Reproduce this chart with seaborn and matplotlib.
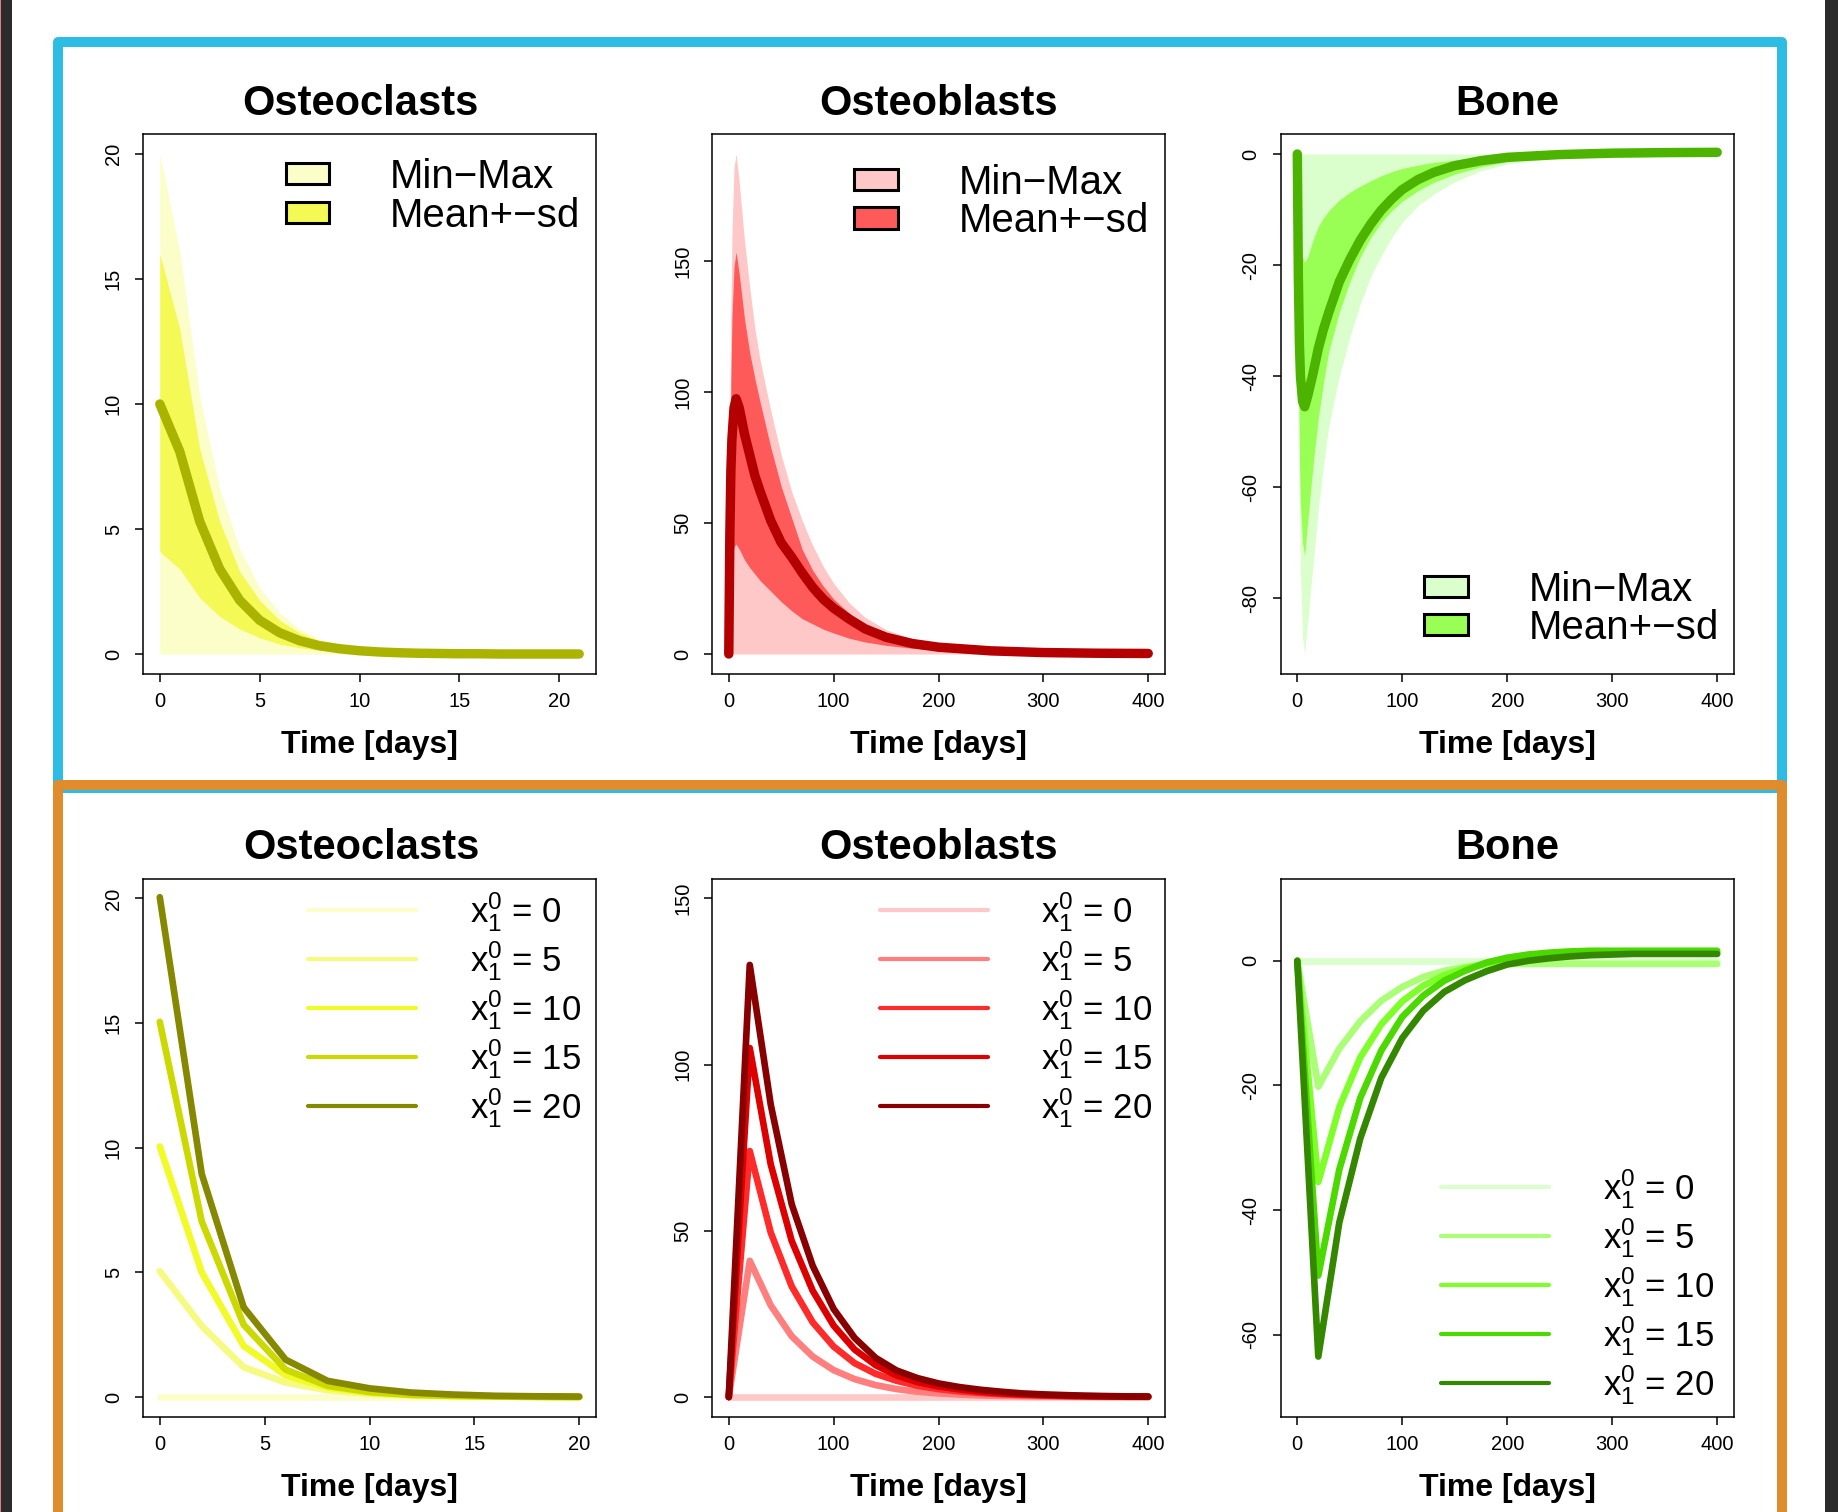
import matplotlib
matplotlib.use("Agg")
import matplotlib.pyplot as plt
import seaborn as sns
from matplotlib.lines import Line2D
from matplotlib.patches import Patch, Rectangle

# ---------------- data ----------------
# top row: statistics over the sampled initial osteoclast numbers
ocl_t = [0, 1, 2, 3, 4, 5, 6, 7, 8, 9, 10, 11, 12, 13, 14, 15, 16, 17, 18, 19, 20, 21]
ocl_mean = [10.0, 8.1, 5.3, 3.4, 2.15, 1.35, 0.85, 0.53, 0.33, 0.21, 0.13, 0.08, 0.05, 0.03, 0.02, 0.01, 0.01, 0.0, 0.0, 0.0, 0.0, 0.0]
ocl_sd_hi = [16.0, 13.0, 8.2, 5.3, 3.3, 2.15, 1.35, 0.85, 0.52, 0.32, 0.2, 0.12, 0.08, 0.05, 0.03, 0.02, 0.01, 0.01, 0.0, 0.0, 0.0, 0.0]
ocl_sd_lo = [4.1, 3.4, 2.25, 1.5, 1.0, 0.65, 0.4, 0.25, 0.15, 0.09, 0.06, 0.04, 0.02, 0.01, 0.01, 0.0, 0.0, 0.0, 0.0, 0.0, 0.0, 0.0]
ocl_max = [20.0, 16.1, 10.3, 6.6, 4.2, 2.65, 1.65, 1.0, 0.6, 0.37, 0.23, 0.14, 0.09, 0.05, 0.03, 0.02, 0.01, 0.01, 0.0, 0.0, 0.0, 0.0]
ocl_min = [0.0, 0.0, 0.0, 0.0, 0.0, 0.0, 0.0, 0.0, 0.0, 0.0, 0.0, 0.0, 0.0, 0.0, 0.0, 0.0, 0.0, 0.0, 0.0, 0.0, 0.0, 0.0]

long_t = [0, 1, 2, 3, 5, 7, 10, 15, 20, 25, 30, 40, 50, 60, 70, 80, 90, 100, 115, 130, 150, 175, 200, 250, 300, 350, 400]
ob_mean = [0, 45, 70, 82, 94, 97.5, 94, 84, 76, 68, 62, 51, 42.5, 37, 31, 25.5, 21, 17.5, 13.3, 9.6, 6.4, 4.0, 2.6, 1.2, 0.55, 0.3, 0.2]
ob_sd_hi = [0, 60, 105, 128, 148, 153.5, 145, 128, 115, 105, 96, 79, 64, 52, 40, 32, 26, 21, 15.5, 11, 7.2, 4.5, 2.9, 1.2, 0.5, 0.2, 0.1]
ob_sd_lo = [0, 18, 30, 36, 41, 42, 40, 36, 33, 30.5, 28, 24, 20, 16.5, 13.5, 11.5, 9.5, 8, 6, 4.6, 3.3, 2.2, 1.4, 0.6, 0.3, 0.15, 0.1]
ob_max = [0, 75, 130, 160, 186, 191, 180, 158, 140, 124, 112, 93, 76, 62, 51, 41.5, 33.5, 27, 19.5, 14, 9.3, 5.8, 3.7, 1.5, 0.6, 0.25, 0.1]
ob_min = [0, 0, 0, 0, 0, 0, 0, 0, 0, 0, 0, 0, 0, 0, 0, 0, 0, 0, 0, 0, 0, 0, 0, 0, 0, 0, 0]

bone_mean = [0, -22, -34, -40, -44.5, -45.5, -43.5, -39.5, -35, -31.5, -28.5, -23, -19, -15.5, -12.6, -10.1, -8.1, -6.4, -4.6, -3.3, -2.1, -1.2, -0.6, -0.1, 0.15, 0.25, 0.3]
bone_sd_hi = [0, -8, -13, -16, -18.5, -19.5, -18.5, -15.5, -13, -11.5, -10.2, -8.3, -6.9, -5.8, -4.8, -3.9, -3.2, -2.6, -2.0, -1.5, -1.1, -0.7, -0.45, -0.1, 0.1, 0.2, 0.25]
bone_sd_lo = [0, -35, -55, -63, -70, -72.4, -66, -56, -47.5, -41, -35.5, -28.5, -23, -18.5, -15, -12.3, -10.2, -8.5, -6.6, -5.1, -3.6, -2.3, -1.4, -0.4, 0.05, 0.15, 0.25]
bone_min = [0, -40, -62, -75, -87, -90, -84, -74, -64, -56, -49, -40, -33, -27, -22, -18.3, -15, -12.3, -9.3, -7.2, -5.0, -3.0, -1.8, -0.6, -0.2, 0, 0]
bone_max = [0, 0, 0, 0, 0, 0, 0, 0, 0, 0, 0, 0, 0, 0, 0, 0, 0, 0, 0, 0, 0, 0, 0, 0, 0, 0, 0]

# bottom row: single runs for x1(0) = 0, 5, 10, 15, 20
init_labels = ["0", "5", "10", "15", "20"]
ocl_run_t = [0, 2, 4, 6, 8, 10, 12, 14, 16, 18, 20]
ocl_run_0 = [0, 0, 0, 0, 0, 0, 0, 0, 0, 0, 0]
ocl_run_5 = [5.05, 2.85, 1.2, 0.58, 0.27, 0.13, 0.06, 0.03, 0.02, 0.01, 0.0]
ocl_run_10 = [10.05, 5.0, 2.05, 0.87, 0.38, 0.17, 0.08, 0.04, 0.02, 0.01, 0.0]
ocl_run_15 = [15.05, 7.05, 2.9, 1.1, 0.45, 0.2, 0.09, 0.05, 0.02, 0.01, 0.0]
ocl_run_20 = [20.05, 8.95, 3.6, 1.5, 0.65, 0.35, 0.18, 0.1, 0.05, 0.03, 0.02]

long_run_t = [0, 20, 40, 60, 80, 100, 120, 140, 160, 180, 200, 220, 240, 260, 280, 300, 320, 340, 360, 380, 400]
ob_run_0 = [0, 0, 0, 0, 0, 0, 0, 0, 0, 0, 0, 0, 0, 0, 0, 0, 0, 0, 0, 0, 0]
ob_run_5 = [0, 41, 27.6, 18.3, 12.2, 8.1, 5.4, 3.6, 2.4, 1.6, 1.1, 0.75, 0.5, 0.35, 0.25, 0.17, 0.12, 0.08, 0.05, 0.04, 0.03]
ob_run_10 = [0, 74, 49.5, 33.3, 22.5, 15.2, 10.2, 7.0, 4.9, 3.4, 2.4, 1.7, 1.2, 0.85, 0.6, 0.45, 0.3, 0.2, 0.15, 0.1, 0.1]
ob_run_15 = [0, 105, 70, 47, 32, 21.5, 14.3, 9.6, 6.5, 4.5, 3.2, 2.3, 1.6, 1.1, 0.8, 0.6, 0.4, 0.3, 0.2, 0.15, 0.1]
ob_run_20 = [0, 130, 88, 58, 39.5, 26.5, 17.8, 11.8, 8.0, 5.7, 4.1, 3.0, 2.2, 1.6, 1.1, 0.8, 0.6, 0.4, 0.3, 0.2, 0.15]

bone_run_0 = [0, 0, 0, 0, 0, 0, 0, 0, 0, 0, 0, 0, 0, 0, 0, 0, 0, 0, 0, 0, 0]
bone_run_5 = [0, -20.2, -14.1, -9.7, -6.4, -4.2, -2.6, -1.6, -1.0, -0.7, -0.5, -0.5, -0.5, -0.5, -0.5, -0.5, -0.5, -0.5, -0.5, -0.5, -0.5]
bone_run_10 = [0, -35.5, -23.5, -15.5, -10.2, -6.5, -4.0, -2.3, -1.2, -0.4, 0.2, 0.6, 0.9, 1.1, 1.2, 1.3, 1.3, 1.3, 1.3, 1.3, 1.3]
bone_run_15 = [0, -50.5, -33.5, -22, -14.4, -9.0, -5.6, -3.2, -1.6, -0.3, 0.5, 1.0, 1.3, 1.5, 1.6, 1.6, 1.6, 1.6, 1.6, 1.6, 1.6]
bone_run_20 = [0, -63.5, -42, -28.5, -18.8, -12.4, -8.0, -5.0, -3.1, -1.7, -0.6, 0.0, 0.4, 0.7, 0.9, 1.0, 1.1, 1.1, 1.1, 1.1, 1.1]

yellow_band = ["#FBFEC8", "#F4F955", "#AAB400"]
red_band = ["#FFC8C8", "#FF5A5A", "#B40000"]
green_band = ["#DBFFCC", "#99FF55", "#4CB400"]
yellow_runs = ["#FBFEC8", "#F6FA80", "#F2FA28", "#CCD900", "#868800"]
red_runs = ["#FFC8C8", "#FF7F7F", "#FF2A2A", "#DD0000", "#880000"]
green_runs = ["#DBFFCC", "#AAFF77", "#7FFF2A", "#4CD900", "#338800"]

# ---------------- style ----------------
sns.set_style("white")
plt.rcParams["font.family"] = ["Liberation Sans", "DejaVu Sans"]
plt.rcParams["text.color"] = "black"
plt.rcParams["axes.labelcolor"] = "black"
plt.rcParams["axes.titlecolor"] = "black"
plt.rcParams["mathtext.fontset"] = "custom"
plt.rcParams["mathtext.rm"] = "Liberation Sans"
plt.rcParams["mathtext.it"] = "Liberation Sans"
plt.rcParams["mathtext.default"] = "regular"
plt.rcParams["axes.unicode_minus"] = False
plt.rcParams["lines.solid_capstyle"] = "round"
plt.rcParams["lines.solid_joinstyle"] = "round"

W, H = 1838, 1512
fig = plt.figure(figsize=(W / 100, H / 100), dpi=100, facecolor="white")


def px_rect(x0, y0, x1, y1):
    return [x0 / W, 1 - y1 / H, (x1 - x0) / W, (y1 - y0) / H]


def r_lim(lo, hi):
    pad = 0.04 * (hi - lo)
    return lo - pad, hi + pad


def style(ax, title, xticks, yticks, xlim, ylim, title_x=0.5):
    ax.set_xlim(*xlim)
    ax.set_ylim(*ylim)
    ax.set_xticks(xticks)
    ax.set_yticks(yticks)
    ax.set_title(title, fontsize=30, fontweight="bold", pad=14, color="black", x=title_x)
    ax.set_xlabel("Time [days]", fontsize=23, fontweight="bold", labelpad=13.5, color="black")
    ax.set_ylabel("")
    ax.tick_params(axis="both", direction="out", length=6, width=1.1,
                   labelsize=14.5, colors="black", bottom=True, left=True)
    ax.tick_params(axis="x", pad=7.2)
    ax.tick_params(axis="y", pad=8.4, labelrotation=90)
    plt.setp(ax.get_yticklabels(), va="center")
    for s in ax.spines.values():
        s.set_color("black")
        s.set_linewidth(1.1)


def band_panel(ax, t, mn, mx, lo, hi, mean, colors, anchor):
    ax.fill_between(t, mn, mx, color=colors[0], lw=0)
    ax.fill_between(t, lo, hi, color=colors[1], lw=0)
    sns.lineplot(x=t, y=mean, color=colors[2], lw=6.8, ax=ax)
    handles = [Patch(facecolor=colors[0], edgecolor="black", lw=2.2),
               Patch(facecolor=colors[1], edgecolor="black", lw=2.2)]
    ax.legend(handles, ["Min\u2212Max", "Mean+\u2212sd"], loc="upper left",
              bbox_to_anchor=anchor, frameon=False, fontsize=29,
              handlelength=1.09, handleheight=0.43, handletextpad=1.5,
              labelspacing=0.01, borderpad=0, borderaxespad=0)


def runs_panel(ax, t, runs, colors, anchor):
    for y, c in zip(runs, colors):
        sns.lineplot(x=t, y=y, color=c, lw=4.8, ax=ax)
    handles = [Line2D([], [], color=c, lw=3, solid_capstyle="round") for c in colors]
    labels = [r"$x_1^0$ = %s" % v for v in init_labels]
    ax.legend(handles, labels, loc="upper left", bbox_to_anchor=anchor,
              frameon=False, fontsize=25, handlelength=3.11,
              handletextpad=1.55, labelspacing=0.14, borderpad=0, borderaxespad=0)


cols = [(143, 596), (712, 1165), (1280.5, 1734)]
rows = [(134, 674), (878.5, 1417)]

# top row
ax = fig.add_axes(px_rect(cols[0][0], rows[0][0], cols[0][1], rows[0][1]))
band_panel(ax, ocl_t, ocl_min, ocl_max, ocl_sd_lo, ocl_sd_hi, ocl_mean, yellow_band, (0.3146, 0.955))
style(ax, "Osteoclasts", [0, 5, 10, 15, 20], [0, 5, 10, 15, 20], r_lim(0, 21), r_lim(0, 20), title_x=0.479)

ax = fig.add_axes(px_rect(cols[1][0], rows[0][0], cols[1][1], rows[0][1]))
band_panel(ax, long_t, ob_min, ob_max, ob_sd_lo, ob_sd_hi, ob_mean, red_band, (0.3135, 0.9445))
style(ax, "Osteoblasts", [0, 100, 200, 300, 400], [0, 50, 100, 150], r_lim(0, 400), r_lim(0, max(ob_max)))

ax = fig.add_axes(px_rect(cols[2][0], rows[0][0], cols[2][1], rows[0][1]))
band_panel(ax, long_t, bone_min, bone_max, bone_sd_lo, bone_sd_hi, bone_mean, green_band, (0.3175, 0.1915))
style(ax, "Bone", [0, 100, 200, 300, 400], [0, -20, -40, -60, -80], r_lim(0, 400), r_lim(min(bone_min), 0))

# bottom row
ax = fig.add_axes(px_rect(cols[0][0], rows[1][0], cols[0][1], rows[1][1]))
runs_panel(ax, ocl_run_t, [ocl_run_0, ocl_run_5, ocl_run_10, ocl_run_15, ocl_run_20], yellow_runs, (0.364, 0.978))
style(ax, "Osteoclasts", [0, 5, 10, 15, 20], [0, 5, 10, 15, 20], r_lim(0, 20), r_lim(0, 20), title_x=0.482)

ax = fig.add_axes(px_rect(cols[1][0], rows[1][0], cols[1][1], rows[1][1]))
runs_panel(ax, long_run_t, [ob_run_0, ob_run_5, ob_run_10, ob_run_15, ob_run_20], red_runs, (0.370, 0.978))
style(ax, "Osteoblasts", [0, 100, 200, 300, 400], [0, 50, 100, 150], r_lim(0, 400), r_lim(0, 150))

ax = fig.add_axes(px_rect(cols[2][0], rows[1][0], cols[2][1], rows[1][1]))
runs_panel(ax, long_run_t, [bone_run_0, bone_run_5, bone_run_10, bone_run_15, bone_run_20], green_runs, (0.3546, 0.464))
style(ax, "Bone", [0, 100, 200, 300, 400], [0, -20, -40, -60], r_lim(0, 400), r_lim(-70, 10))

# frames around the two result blocks and the dark window edges
fig.add_artist(Rectangle((57.5 / W, 1 - 788 / H), (1781.5 - 57.5) / W, (788 - 42.3) / H,
                         transform=fig.transFigure, fill=False, edgecolor="#2DBCE4",
                         lw=7.2, joinstyle="round"))
fig.add_artist(Rectangle((57.5 / W, 1 - 1540 / H), (1781.5 - 57.5) / W, (1540 - 785) / H,
                         transform=fig.transFigure, fill=False, edgecolor="#E08B2C",
                         lw=7.2, joinstyle="round"))
fig.add_artist(Rectangle((0, 0), 1.2 / W, 1, transform=fig.transFigure, color="#D98080", lw=0))
fig.add_artist(Rectangle((1.2 / W, 0), 10.7 / W, 1, transform=fig.transFigure, color="#2B2B2B", lw=0))
fig.add_artist(Rectangle((1825 / W, 0), 13 / W, 1, transform=fig.transFigure, color="#2B2B2B", lw=0))

fig.savefig("out.png", dpi=100, facecolor="white")
